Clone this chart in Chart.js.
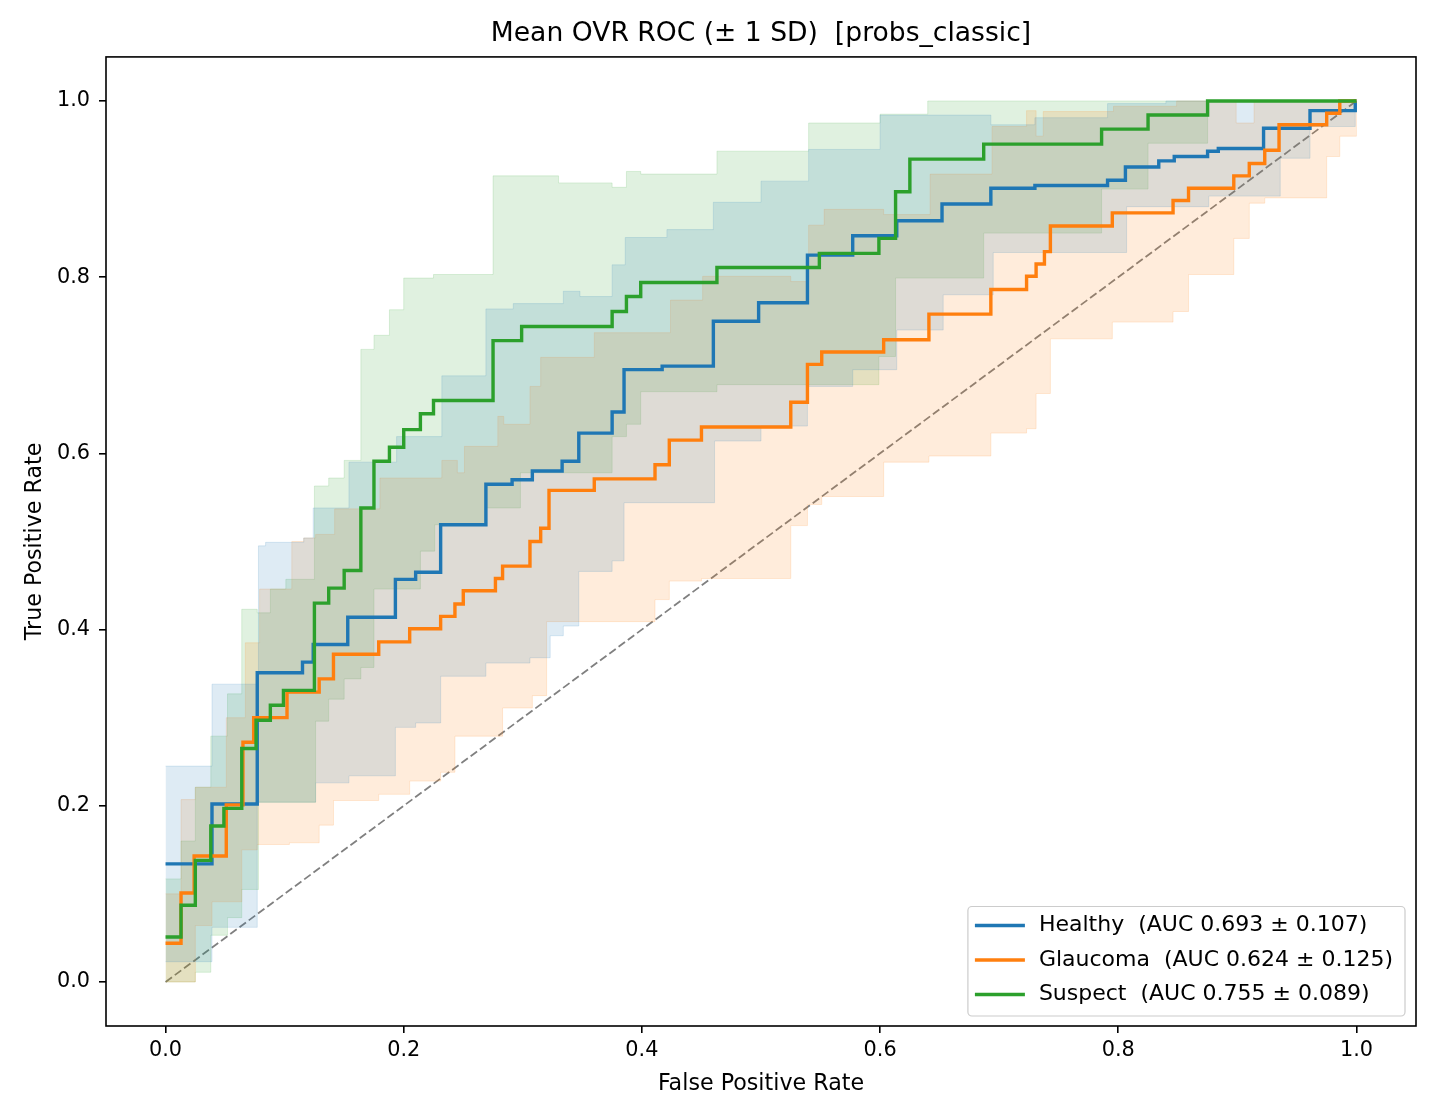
<!DOCTYPE html>
<html>
<head>
<meta charset="utf-8">
<title>Mean OVR ROC</title>
<script src="https://cdn.jsdelivr.net/npm/chart.js@4.4.1/dist/chart.umd.min.js"></script>
<style>
  html, body { margin: 0; padding: 0; background: #fff; }
  canvas { display: block; }
</style>
</head>
<body>
<canvas id="roc" width="1440" height="1120"></canvas>
<script>
// axis ticks
const xTicks = [0, 0.2, 0.4, 0.6, 0.8, 1.0];
const yTicks = [0, 0.2, 0.4, 0.6, 0.8, 1.0];

// legend info
const classNames = ['Healthy', 'Glaucoma', 'Suspect'];
const aucMean = [0.693, 0.624, 0.755];
const aucSd = [0.107, 0.125, 0.089];
const classColors = ['#1f77b4', '#ff7f0e', '#2ca02c'];
const bandColors = ['rgba(31,119,180,0.15)', 'rgba(255,127,14,0.15)', 'rgba(44,160,44,0.15)'];

// [fpr, tpr] step points: tpr holds from this fpr to the next one
const healthyMean = [[0,0.134],[0.039,0.202],[0.077,0.351],[0.115,0.363],[0.124,0.383],[0.153,0.414],[0.193,0.457],[0.21,0.465],[0.231,0.519],[0.269,0.565],[0.291,0.570],[0.308,0.580],[0.333,0.591],[0.347,0.623],[0.375,0.647],[0.385,0.695],[0.417,0.699],[0.460,0.750],[0.498,0.771],[0.539,0.825],[0.577,0.847],[0.614,0.864],[0.652,0.883],[0.693,0.901],[0.730,0.904],[0.791,0.910],[0.806,0.925],[0.834,0.932],[0.847,0.937],[0.875,0.943],[0.884,0.946],[0.922,0.969],[0.961,0.989],[0.999,1.0],[1.0,1.0]];
const healthyHi = [[0,0.245],[0.039,0.338],[0.078,0.495],[0.084,0.499],[0.116,0.504],[0.124,0.538],[0.154,0.590],[0.194,0.619],[0.232,0.688],[0.269,0.764],[0.292,0.770],[0.334,0.784],[0.348,0.778],[0.375,0.814],[0.386,0.845],[0.421,0.854],[0.460,0.885],[0.500,0.909],[0.540,0.945],[0.600,0.984],[0.693,0.973],[0.730,0.981],[0.791,0.997],[0.840,1.0],[1.0,1.0]];
const healthyLo = [[0,0.023],[0.039,0.062],[0.077,0.204],[0.126,0.226],[0.154,0.234],[0.193,0.289],[0.210,0.294],[0.231,0.347],[0.269,0.362],[0.306,0.368],[0.323,0.393],[0.334,0.404],[0.347,0.466],[0.375,0.478],[0.385,0.544],[0.461,0.614],[0.500,0.631],[0.539,0.676],[0.577,0.695],[0.614,0.740],[0.653,0.780],[0.695,0.828],[0.807,0.880],[0.876,0.892],[0.936,0.935],[0.961,0.971],[0.999,1.0],[1.0,1.0]];

const glaucomaMean = [[0,0.044],[0.013,0.101],[0.024,0.143],[0.051,0.201],[0.065,0.272],[0.074,0.300],[0.102,0.329],[0.129,0.344],[0.141,0.372],[0.179,0.386],[0.205,0.401],[0.231,0.415],[0.243,0.429],[0.250,0.444],[0.277,0.458],[0.283,0.472],[0.306,0.500],[0.315,0.515],[0.322,0.558],[0.360,0.571],[0.411,0.587],[0.423,0.615],[0.450,0.630],[0.525,0.658],[0.539,0.701],[0.551,0.715],[0.603,0.729],[0.641,0.758],[0.693,0.786],[0.723,0.801],[0.731,0.815],[0.738,0.829],[0.743,0.858],[0.795,0.873],[0.846,0.887],[0.859,0.901],[0.897,0.915],[0.910,0.929],[0.923,0.944],[0.935,0.973],[0.975,0.986],[0.986,1.0],[1.0,1.0]];
const glaucomaHi = [[0,0.100],[0.013,0.207],[0.025,0.221],[0.051,0.300],[0.067,0.385],[0.079,0.446],[0.106,0.500],[0.116,0.504],[0.126,0.508],[0.142,0.537],[0.180,0.572],[0.232,0.592],[0.245,0.578],[0.251,0.608],[0.279,0.642],[0.284,0.633],[0.306,0.676],[0.315,0.709],[0.360,0.737],[0.424,0.774],[0.451,0.801],[0.525,0.795],[0.540,0.859],[0.553,0.877],[0.603,0.871],[0.642,0.917],[0.694,0.971],[0.723,0.989],[0.731,0.960],[0.737,0.988],[0.796,0.994],[0.849,1.0],[0.899,0.975],[0.914,1.0],[1.0,1.0]];
const glaucomaLo = [[0,0.0],[0.025,0.064],[0.039,0.091],[0.064,0.150],[0.077,0.156],[0.104,0.158],[0.129,0.178],[0.141,0.206],[0.179,0.213],[0.205,0.228],[0.231,0.238],[0.243,0.279],[0.283,0.311],[0.308,0.325],[0.320,0.409],[0.411,0.434],[0.423,0.455],[0.450,0.458],[0.525,0.518],[0.539,0.542],[0.551,0.551],[0.603,0.590],[0.641,0.597],[0.693,0.623],[0.723,0.628],[0.731,0.668],[0.743,0.730],[0.795,0.749],[0.846,0.761],[0.859,0.803],[0.897,0.844],[0.910,0.884],[0.923,0.890],[0.975,0.937],[0.986,0.960],[1.0,1.0]];

const suspectMean = [[0,0.051],[0.013,0.087],[0.025,0.138],[0.038,0.177],[0.049,0.197],[0.064,0.265],[0.076,0.297],[0.088,0.314],[0.099,0.331],[0.125,0.430],[0.137,0.447],[0.150,0.467],[0.164,0.538],[0.175,0.591],[0.188,0.607],[0.200,0.627],[0.214,0.645],[0.225,0.660],[0.275,0.728],[0.299,0.744],[0.375,0.761],[0.387,0.778],[0.399,0.794],[0.463,0.811],[0.549,0.827],[0.599,0.844],[0.613,0.897],[0.625,0.934],[0.687,0.951],[0.786,0.968],[0.825,0.984],[0.875,1.0],[1.0,1.0]];
const suspectHi = [[0,0.117],[0.013,0.160],[0.025,0.221],[0.038,0.279],[0.052,0.327],[0.064,0.423],[0.077,0.419],[0.088,0.446],[0.101,0.457],[0.125,0.563],[0.137,0.572],[0.150,0.592],[0.164,0.718],[0.175,0.734],[0.188,0.763],[0.200,0.799],[0.225,0.803],[0.275,0.915],[0.330,0.907],[0.375,0.902],[0.387,0.920],[0.399,0.917],[0.463,0.943],[0.540,0.975],[0.600,0.985],[0.640,1.0],[1.0,1.0]];
const suspectLo = [[0,0.0],[0.025,0.011],[0.038,0.053],[0.052,0.073],[0.064,0.105],[0.078,0.204],[0.126,0.296],[0.137,0.321],[0.150,0.344],[0.164,0.357],[0.175,0.446],[0.214,0.489],[0.226,0.519],[0.269,0.538],[0.298,0.578],[0.375,0.619],[0.387,0.633],[0.399,0.670],[0.463,0.678],[0.599,0.710],[0.613,0.799],[0.687,0.850],[0.786,0.900],[0.825,0.952],[0.875,1.0],[1.0,1.0]];

const chanceLine = [[0, 0], [1, 1]];

const FONT = 'DejaVu Sans';

function meanLine(data, color) {
    return { data, borderColor: color, borderWidth: 3.4, pointRadius: 0, stepped: 'before', fill: false };
}
function band(data, color, fillTo) {
    return { data, borderColor: color, backgroundColor: color, borderWidth: 1, pointRadius: 0, stepped: 'before', fill: fillTo };
}

// 축 테두리 (4면)
const framePlugin = {
    id: 'frame',
    afterDatasetsDraw(chart) {
        const { ctx, chartArea: a } = chart;
        ctx.save();
        ctx.strokeStyle = '#000';
        ctx.lineWidth = 1.6;
        ctx.strokeRect(a.left, a.top, a.right - a.left, a.bottom - a.top);
        ctx.restore();
    }
};

// 범례 (오른쪽 아래)
const legendPlugin = {
    id: 'rocLegend',
    afterDraw(chart) {
        const { ctx, chartArea: a } = chart;
        ctx.save();
        ctx.font = `22px "${FONT}"`;
        const labels = classNames.map((n, i) => `${n}  (AUC ${aucMean[i].toFixed(3)} ± ${aucSd[i].toFixed(3)})`);
        const textW = Math.max(...labels.map(l => ctx.measureText(l).width));
        const rowH = 34.5;
        const w = 7 + 50 + 14 + textW + 12;
        const h = rowH * labels.length + 6;
        const right = a.right - 11, bottom = a.bottom - 10;
        const left = right - w, top = bottom - h;
        ctx.beginPath();
        ctx.roundRect(left, top, w, h, 4);
        ctx.fillStyle = 'rgba(255,255,255,0.8)';
        ctx.fill();
        ctx.strokeStyle = '#cccccc';
        ctx.lineWidth = 1.2;
        ctx.stroke();
        labels.forEach((l, i) => {
            const y = top + 19 + i * rowH;
            ctx.strokeStyle = classColors[i];
            ctx.lineWidth = 3.4;
            ctx.beginPath();
            ctx.moveTo(left + 7, y);
            ctx.lineTo(left + 57, y);
            ctx.stroke();
            ctx.fillStyle = '#000';
            ctx.textBaseline = 'middle';
            ctx.textAlign = 'left';
            ctx.fillText(l, left + 71, y);
        });
        ctx.restore();
    }
};

const axisCommon = {
    type: 'linear',
    min: -0.05,
    max: 1.05,
    border: { display: false },
    grid: { drawOnChartArea: false, drawTicks: true, tickLength: 7, color: '#000', lineWidth: 1.6 },
};

new Chart(document.getElementById('roc'), {
    type: 'line',
    data: {
        datasets: [
            meanLine(suspectMean, classColors[2]),
            meanLine(glaucomaMean, classColors[1]),
            meanLine(healthyMean, classColors[0]),
            band(healthyHi, bandColors[0], '+1'),
            band(healthyLo, bandColors[0], false),
            band(glaucomaHi, bandColors[1], '+1'),
            band(glaucomaLo, bandColors[1], false),
            band(suspectHi, bandColors[2], '+1'),
            band(suspectLo, bandColors[2], false),
            { data: chanceLine, borderColor: '#808080', borderWidth: 1.8, borderDash: [8, 3.5], pointRadius: 0, fill: false }
        ]
    },
    options: {
        responsive: false,
        animation: false,
        devicePixelRatio: 1,
        layout: { padding: { left: 0, right: 24, top: 0, bottom: 0 } },
        plugins: {
            legend: { display: false },
            tooltip: { enabled: false },
            title: {
                display: true,
                fullSize: false,
                text: 'Mean OVR ROC (± 1 SD)  [probs_classic]',
                color: '#000',
                font: { family: FONT, size: 26.6, weight: 'normal' },
                padding: { top: 18, bottom: 7 }
            }
        },
        scales: {
            x: {
                ...axisCommon,
                afterBuildTicks: s => { s.ticks = xTicks.map(v => ({ value: v })); },
                afterFit: s => { s.height = 94; },
                ticks: { color: '#000', padding: 5, maxRotation: 0, font: { family: FONT, size: 20.8 }, callback: v => v.toFixed(1) },
                title: { display: true, text: 'False Positive Rate', color: '#000', font: { family: FONT, size: 22.2 }, padding: { top: 0, bottom: 22 } }
            },
            y: {
                ...axisCommon,
                afterBuildTicks: s => { s.ticks = yTicks.map(v => ({ value: v })); },
                afterFit: s => { s.width = 106; },
                ticks: { color: '#000', padding: 9, font: { family: FONT, size: 20.8 }, callback: v => v.toFixed(1) },
                title: { display: true, text: 'True Positive Rate', color: '#000', font: { family: FONT, size: 22.2 }, padding: { top: 22, bottom: 0 } }
            }
        }
    },
    plugins: [framePlugin, legendPlugin]
});
</script>
</body>
</html>
